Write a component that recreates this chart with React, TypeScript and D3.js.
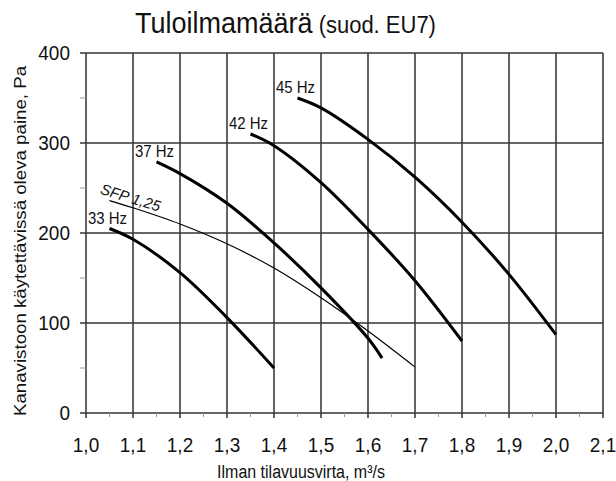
import React from "react";
import * as d3 from "d3";

// air flow (m3/s) and available pressure (Pa) for each fan speed
const flow33 = [1.05, 1.1, 1.2, 1.3, 1.4];
const pres33 = [205, 193, 156, 106, 50];
const flow37 = [1.15, 1.2, 1.3, 1.4, 1.5, 1.6, 1.63];
const pres37 = [279, 266, 233, 189, 139, 83, 61];
const flow42 = [1.35, 1.4, 1.5, 1.6, 1.7, 1.8];
const pres42 = [310, 297, 256, 204, 147, 80];
const flow45 = [1.45, 1.5, 1.6, 1.7, 1.8, 1.9, 2.0];
const pres45 = [350, 339, 304, 262, 212, 154, 87];
const sfpFlow = [1.05, 1.1, 1.2, 1.3, 1.4, 1.5, 1.6, 1.7];
const sfpPres = [236, 228, 210, 188, 161, 128, 91, 51];

const curveNames = ["33 Hz", "37 Hz", "42 Hz", "45 Hz"];
const xTickValues = [1.0, 1.1, 1.2, 1.3, 1.4, 1.5, 1.6, 1.7, 1.8, 1.9, 2.0, 2.1];
const yTickValues = [0, 100, 200, 300, 400];

const W = 616;
const H = 481;
const margin = { top: 53, right: 13, bottom: 68, left: 86 };
const FONT = "Liberation Sans, Arial, sans-serif";
const STRETCH = 1.1; // text in the original is a bit taller than wide

const App = () => {
  const x = d3
    .scaleLinear()
    .domain([1.0, 2.1])
    .range([margin.left, W - margin.right]);
  const y = d3
    .scaleLinear()
    .domain([0, 400])
    .range([H - margin.bottom, margin.top]);

  const line = d3
    .line<[number, number]>()
    .x((d) => x(d[0]))
    .y((d) => y(d[1]))
    .curve(d3.curveCatmullRom.alpha(0.5));

  const curves = [
    d3.zip(flow33, pres33),
    d3.zip(flow37, pres37),
    d3.zip(flow42, pres42),
    d3.zip(flow45, pres45),
  ] as [number, number][][];
  const sfp = d3.zip(sfpFlow, sfpPres) as [number, number][];

  const fmt = (v: number) => d3.format(".1f")(v).replace(".", ",");
  const at = (px: number, py: number) => `translate(${px},${py}) scale(1,${STRETCH})`;
  const x0 = x.range()[0];
  const x1 = x.range()[1];
  const y0 = y.range()[0];
  const y1 = y.range()[1];
  const minorY = d3.range(50, 400, 100);
  const minorX = d3.range(1.05, 2.1, 0.1);

  return (
    <svg
      width={W}
      height={H}
      style={{ position: "absolute", left: 0, top: 0, background: "#fff" }}
      fontFamily={FONT}
    >
      <text transform={at(135, 33)} fontSize={27} fill="#111">
        Tuloilmamäärä<tspan fontSize={22}> (suod. EU7)</tspan>
      </text>

      {/* grid */}
      {xTickValues.map((v) => (
        <line key={"gx" + v} x1={x(v)} x2={x(v)} y1={y1} y2={y0 + 5} stroke="#222" strokeWidth={1.4} />
      ))}
      {yTickValues.map((v) => (
        <line key={"gy" + v} x1={x0 - 6} x2={x1} y1={y(v)} y2={y(v)} stroke="#333" strokeWidth={1.6} />
      ))}
      {minorY.map((v) => (
        <line key={"my" + v} x1={x0 - 6} x2={x0} y1={y(v)} y2={y(v)} stroke="#999" strokeWidth={1} />
      ))}
      {minorX.map((v) => (
        <line key={"mx" + v} x1={x(v)} x2={x(v)} y1={y0} y2={y0 + 4} stroke="#999" strokeWidth={1} />
      ))}

      {/* curves */}
      {curves.map((c, i) => (
        <g key={curveNames[i]}>
          <path d={line(c) || ""} fill="none" stroke="#000" strokeWidth={3} />
          <text transform={at(x(c[0][0]) - 2, y(c[0][1]) - 5)} fontSize={15} textAnchor="middle" fill="#111">
            {curveNames[i]}
          </text>
        </g>
      ))}
      <path d={line(sfp) || ""} fill="none" stroke="#000" strokeWidth={1.2} />
      <text
        transform={`translate(${x(sfp[0][0]) - 10},${y(sfp[0][1]) - 7}) rotate(17)`}
        fontSize={15}
        fontStyle="italic"
        fill="#111"
      >
        SFP 1,25
      </text>

      {/* tick labels */}
      {yTickValues.map((v) => (
        <text key={"ty" + v} transform={at(x0 - 16, y(v) + 7)} textAnchor="end" fontSize={19} fill="#111">
          {v}
        </text>
      ))}
      {xTickValues.map((v) => (
        <text key={"tx" + v} transform={at(x(v), y0 + 39)} textAnchor="middle" fontSize={19} fill="#111">
          {fmt(v)}
        </text>
      ))}

      <text transform={at(301, 478)} textAnchor="middle" fontSize={16} fill="#111">
        Ilman tilavuusvirta, m³/s
      </text>
      <text
        transform={`translate(26,241) scale(1,${STRETCH}) rotate(-90)`}
        textAnchor="middle"
        fontSize={17}
        fill="#111"
      >
        Kanavistoon käytettävissä oleva paine, Pa
      </text>
    </svg>
  );
};

export default App;
